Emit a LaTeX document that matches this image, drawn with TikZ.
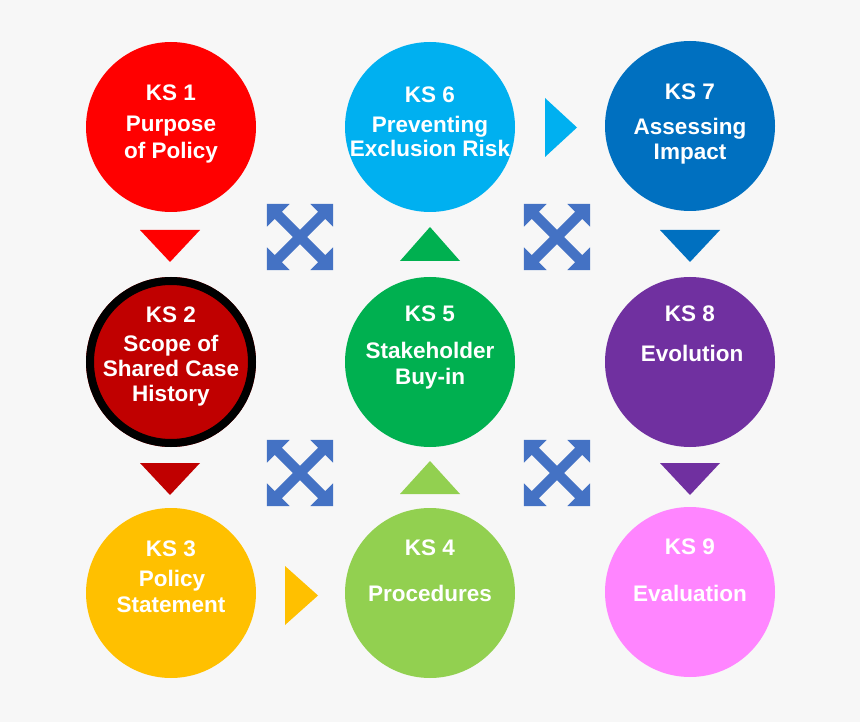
\documentclass[tikz,border=0pt]{standalone}
\usepackage{fontspec}
\setmainfont{Liberation Sans}
\definecolor{bg}{HTML}{F7F7F7}
\definecolor{cKSa}{HTML}{FF0000}
\definecolor{cKSb}{HTML}{C00000}
\definecolor{cKSc}{HTML}{FFC000}
\definecolor{cKSd}{HTML}{92D050}
\definecolor{cKSe}{HTML}{00B050}
\definecolor{cKSf}{HTML}{00B0F0}
\definecolor{cKSg}{HTML}{0070C0}
\definecolor{cKSh}{HTML}{7030A0}
\definecolor{cKSi}{HTML}{FF85FF}
\definecolor{qarrow}{HTML}{4472C4}
\tikzset{
  ks/.style={circle, minimum size=170pt, inner sep=0pt, draw=none},
  txt/.style={anchor=base, inner sep=0pt, text=white, font=\fontsize{22.5}{27}\selectfont\bfseries},
}
\newcommand{\quadarrow}[2]{%
  \begin{scope}[shift={(#1,#2)}]
    \foreach \a in {45,-45}{
      \fill[qarrow, rotate=\a] (46.7,0) -- (30.7,16) -- (30.7,5) -- (-30.7,5) -- (-30.7,16) -- (-46.7,0)
        -- (-30.7,-16) -- (-30.7,-5) -- (30.7,-5) -- (30.7,-16) -- cycle;
    }
  \end{scope}}
\begin{document}
\begin{tikzpicture}[x=1pt,y=-1pt]
\fill[bg] (0,0) rectangle (860,722);
\useasboundingbox (0,0) rectangle (860,722);

% circles
\node[ks, fill=cKSa] (k1) at (171,127) {};
\node[ks, fill=cKSf] (k6) at (430,127) {};
\node[ks, fill=cKSg] (k7) at (690,126) {};
\node[ks, fill=cKSb] (k2) at (171,362) {};
\draw[line width=8pt, black] (k2.center) circle[radius=81];
\node[ks, fill=cKSe] (k5) at (430,362) {};
\node[ks, fill=cKSh] (k8) at (690,362) {};
\node[ks, fill=cKSc] (k3) at (171,593) {};
\node[ks, fill=cKSd] (k4) at (430,593) {};
\node[ks, fill=cKSi] (k9) at (690,592) {};

% texts
\node[txt] (t1a) at (171,100.7) {KS 1};
\node[txt] (t1b) at (171,131.7) {Purpose};
\node[txt] (t1c) at (171,158.5) {of Policy};

\node[txt] (t2a) at (171,322.7) {KS 2};
\node[txt] (t2b) at (171,351.7) {Scope of};
\node[txt] (t2c) at (171,376.7) {Shared Case};
\node[txt] (t2d) at (171,401.7) {History};

\node[txt] (t3a) at (171,556) {KS 3};
\node[txt] (t3b) at (172,586.7) {Policy};
\node[txt] (t3c) at (171,612.7) {Statement};

\node[txt] (t4a) at (430,555) {KS 4};
\node[txt] (t4b) at (430,601.7) {Procedures};

\node[txt] (t5a) at (430,321) {KS 5};
\node[txt] (t5b) at (430,358.3) {Stakeholder};
\node[txt] (t5c) at (430,384.3) {Buy-in};

\node[txt] (t6a) at (430,103) {KS 6};
\node[txt] (t6b) at (430,132.7) {Preventing};
\node[txt] (t6c) at (430,156.7) {Exclusion Risk};

\node[txt] (t7a) at (690,99.3) {KS 7};
\node[txt] (t7b) at (690,135) {Assessing};
\node[txt] (t7c) at (690,159.3) {Impact};

\node[txt] (t8a) at (690,321.7) {KS 8};
\node[txt] (t8b) at (692,361.7) {Evolution};

\node[txt] (t9a) at (690,554) {KS 9};
\node[txt] (t9b) at (690,601) {Evaluation};

% triangles
\fill[cKSa] (140,230) -- (200,230) -- (170,262) -- cycle;
\fill[cKSb] (140,463) -- (200,463) -- (170,495) -- cycle;
\fill[cKSg] (660,230) -- (720,230) -- (690,262) -- cycle;
\fill[cKSh] (660,463) -- (720,463) -- (690,495) -- cycle;
\fill[cKSe] (400,261) -- (460,261) -- (430,227) -- cycle;
\fill[cKSd] (400,494) -- (460,494) -- (430,461) -- cycle;
\fill[cKSf] (545,98) -- (545,157) -- (577,127.5) -- cycle;
\fill[cKSc] (285,566) -- (285,625) -- (318,595.5) -- cycle;

% quad arrows
\quadarrow{300}{237}
\quadarrow{557}{237}
\quadarrow{300}{473}
\quadarrow{557}{473}
\end{tikzpicture}
\end{document}
